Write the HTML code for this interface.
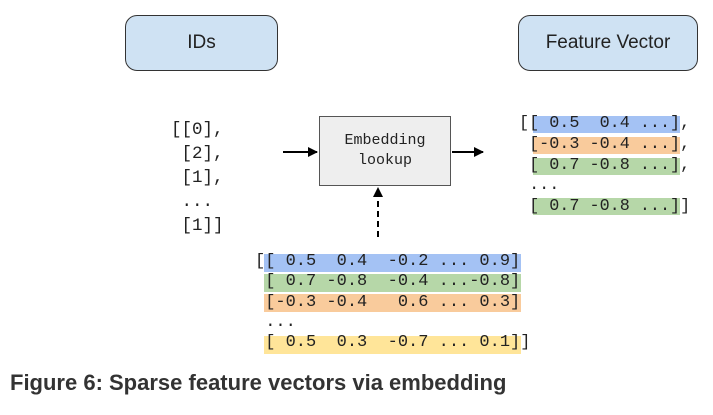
<!DOCTYPE html>
<html><head><style>
body{margin:0;width:713px;height:415px;background:#fff;position:relative;overflow:hidden;font-family:"Liberation Sans",sans-serif}
.box{position:absolute;background:#cfe2f3;border:1.3px solid #333;border-radius:12px;display:flex;align-items:center;justify-content:center;font-size:19px;color:#222;box-sizing:border-box}
.m{position:absolute;font-family:"Liberation Mono",monospace;white-space:pre;color:#222}
.r{position:absolute;white-space:pre;font-family:"Liberation Mono",monospace;color:#222}
</style></head><body>
<div class="box" style="left:125px;top:15px;width:153px;height:56px">IDs</div>
<div class="box" style="left:518px;top:15px;width:180px;height:56px">Feature Vector</div>

<div class="m" style="left:171px;top:118px;font-size:17.5px;line-height:24px">[[0],
 [2],
 [1],
 ...
 [1]]</div>

<div style="position:absolute;left:319px;top:116px;width:132px;height:70px;background:#eee;border:1px solid #555;box-sizing:border-box;display:flex;align-items:center;justify-content:center;text-align:center;font-family:'Liberation Mono',monospace;font-size:15px;line-height:20px;color:#222">Embedding<br>lookup</div>

<svg style="position:absolute;left:0;top:0" width="713" height="415">
<defs><marker id="a" markerWidth="10" markerHeight="10" refX="9" refY="5" orient="auto" markerUnits="userSpaceOnUse"><path d="M0,0 L10,5 L0,10z" fill="#000"/></marker></defs>
<line x1="283" y1="152" x2="317" y2="152" stroke="#000" stroke-width="2" marker-end="url(#a)"/>
<line x1="452" y1="152" x2="483" y2="152" stroke="#000" stroke-width="2" marker-end="url(#a)"/>
<line x1="378" y1="237" x2="378" y2="188" stroke="#000" stroke-width="2" stroke-dasharray="6,4" marker-end="url(#a)"/>
</svg>

<div style="position:absolute;left:533px;top:116px;width:147px;height:17px;background:#a4c2f4"></div>
<div style="position:absolute;left:533px;top:137px;width:147px;height:17px;background:#f9cb9c"></div>
<div style="position:absolute;left:533px;top:158px;width:147px;height:17px;background:#b6d7a8"></div>
<div style="position:absolute;left:533px;top:198px;width:147px;height:17px;background:#b6d7a8"></div>
<div class="r" style="left:519px;top:114px;font-size:16.8px;line-height:20.8px">[[ 0.5  0.4 ...],
 [-0.3 -0.4 ...],
 [ 0.7 -0.8 ...],
 ...
 [ 0.7 -0.8 ...]]</div>

<div style="position:absolute;left:264px;top:254px;width:257px;height:18px;background:#a4c2f4"></div>
<div style="position:absolute;left:264px;top:274px;width:257px;height:18px;background:#b6d7a8"></div>
<div style="position:absolute;left:264px;top:294px;width:257px;height:18px;background:#f9cb9c"></div>
<div style="position:absolute;left:264px;top:336px;width:257px;height:18px;background:#ffe599"></div>
<div class="r" style="left:255px;top:252px;font-size:17px;line-height:20.3px">[[ 0.5  0.4  -0.2 ... 0.9]
 [ 0.7 -0.8  -0.4 ...-0.8]
 [-0.3 -0.4   0.6 ... 0.3]
 ...
 [ 0.5  0.3  -0.7 ... 0.1]]</div>

<div style="position:absolute;left:10px;top:370px;font-size:22px;font-weight:bold;color:#333">Figure 6: Sparse feature vectors via embedding</div>
</body></html>
